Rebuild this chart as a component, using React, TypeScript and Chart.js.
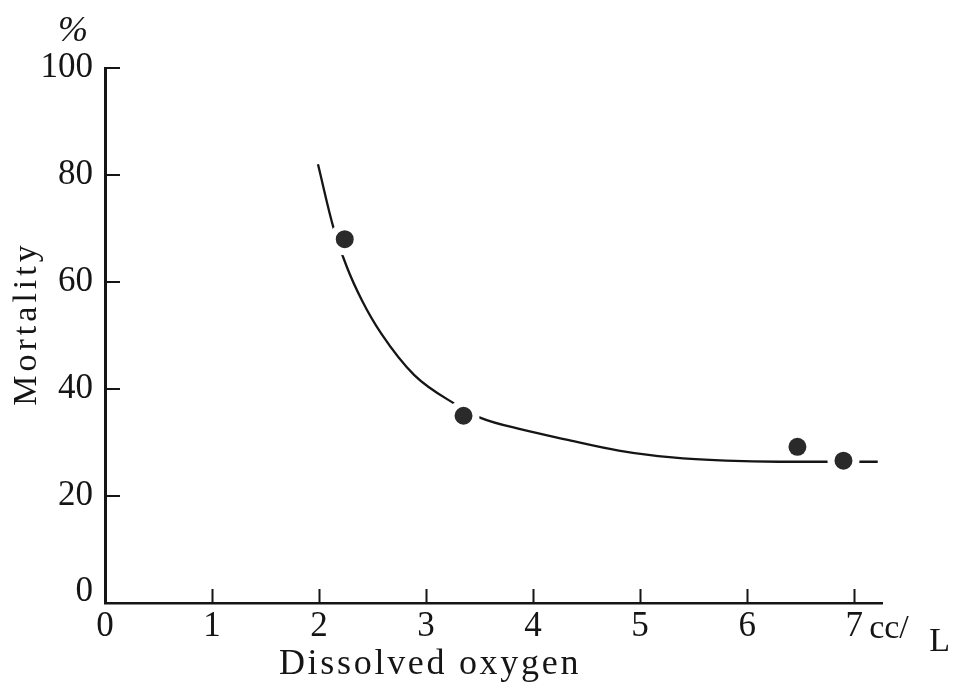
import { useEffect, useRef } from 'react';
import { Chart, registerables } from 'chart.js';

Chart.register(...registerables);

// ---- data ----
const xTickValues = [0, 1, 2, 3, 4, 5, 6, 7];
const yTickValues = [0, 20, 40, 60, 80, 100];
const observedX = [2.24, 3.35, 6.47, 6.9];
const observedY = [68.0, 35.0, 29.2, 26.6];
const curveX = [1.99, 2.13, 2.26, 2.4, 2.58, 2.89, 3.27, 3.51, 3.9, 4.3, 4.8, 5.3, 5.8, 6.3, 6.9, 7.22];
const curveY = [82.0, 70.5, 62.8, 56.6, 50.4, 42.6, 37.2, 34.6, 32.4, 30.6, 28.5, 27.2, 26.6, 26.4, 26.4, 26.4];
const xTitle = 'Dissolved oxygen';
const yTitle = 'Mortality';
const yUnit = '%';
const xUnitTop = 'cc/';
const xUnitBottom = 'L';

const INK = '#151515';
const SERIF = '"Liberation Serif", "DejaVu Serif", serif';

const decorPlugin = {
  id: 'decor',
  afterDraw(chart: any) {
    const ctx = chart.ctx as CanvasRenderingContext2D;
    const xs = chart.scales.x;
    const ys = chart.scales.y;
    const { left, bottom } = chart.chartArea;
    ctx.save();
    ctx.strokeStyle = INK;
    ctx.fillStyle = INK;
    ctx.lineWidth = 2;
    ctx.beginPath();
    xTickValues.filter((v) => v > 0).forEach((v) => {
      const px = Math.round(xs.getPixelForValue(v)) + 0.5;
      ctx.moveTo(px, bottom);
      ctx.lineTo(px, bottom - 14);
    });
    yTickValues.filter((v) => v > 0).forEach((v) => {
      const py = Math.round(ys.getPixelForValue(v));
      ctx.moveTo(left, py);
      ctx.lineTo(left + 15, py);
    });
    ctx.stroke();

    // y "0" label, lifted above the corner
    ctx.font = `35px ${SERIF}`;
    ctx.textAlign = 'right';
    ctx.textBaseline = 'middle';
    ctx.fillText(String(yTickValues[0]), left - 12, ys.getPixelForValue(0) - 11);

    // % unit
    ctx.font = `italic 36px ${SERIF}`;
    ctx.textAlign = 'center';
    ctx.textBaseline = 'alphabetic';
    ctx.fillText(yUnit, left - 32, ys.getPixelForValue(100) - 27);

    // y title
    ctx.save();
    ctx.translate(36, (ys.top + ys.bottom) / 2 - 12);
    ctx.rotate(-Math.PI / 2);
    ctx.font = `34px ${SERIF}`;
    (ctx as any).letterSpacing = '4px';
    ctx.textAlign = 'center';
    ctx.textBaseline = 'alphabetic';
    ctx.fillText(yTitle, 0, 0);
    ctx.restore();

    // x title
    ctx.save();
    ctx.font = `36px ${SERIF}`;
    (ctx as any).letterSpacing = '2.7px';
    ctx.textAlign = 'center';
    ctx.textBaseline = 'alphabetic';
    ctx.fillText(xTitle, 430, 674);
    ctx.restore();

    // x unit
    ctx.font = `34px ${SERIF}`;
    ctx.textAlign = 'left';
    ctx.textBaseline = 'alphabetic';
    ctx.fillText(xUnitTop, xs.getPixelForValue(7) + 15, 638);
    ctx.fillText(xUnitBottom, xs.getPixelForValue(7) + 75, 651);
    ctx.restore();
  },
};

export default function App() {
  const canvasRef = useRef<HTMLCanvasElement | null>(null);

  useEffect(() => {
    document.body.style.margin = '0';
    const canvas = canvasRef.current;
    if (!canvas) return;
    const observed = observedX.map((x, i) => ({ x, y: observedY[i] }));
    const curve = curveX.map((x, i) => ({ x, y: curveY[i] }));
    const chart = new Chart(canvas, {
      type: 'scatter',
      data: {
        datasets: [
          {
            type: 'scatter',
            data: observed,
            order: 0,
            pointBackgroundColor: '#2a2a2a',
            pointBorderColor: '#ffffff',
            pointRadius: (c: any) => (c.dataIndex === 2 ? 9 : 12.5),
            pointBorderWidth: (c: any) => (c.dataIndex === 2 ? 0 : 7),
            pointHoverRadius: 0,
          } as any,
          {
            type: 'line',
            data: curve,
            order: 1,
            borderColor: INK,
            borderWidth: 2.3,
            pointRadius: 0,
            cubicInterpolationMode: 'monotone',
            fill: false,
          } as any,
        ],
      },
      options: {
        animation: false,
        responsive: false,
        events: [],
        layout: { padding: { left: 0, top: 68, right: 74, bottom: 0 } },
        plugins: { legend: { display: false }, tooltip: { enabled: false } },
        scales: {
          x: {
            type: 'linear',
            min: 0,
            max: 7.26,
            afterFit: (s: any) => {
              s.height = 83;
            },
            grid: { display: false, drawTicks: false },
            border: { display: true, color: INK, width: 2.5 },
            ticks: {
              stepSize: 1,
              includeBounds: false,
              autoSkip: false,
              maxRotation: 0,
              padding: 3,
              color: INK,
              font: { family: SERIF, size: 35 },
            },
          },
          y: {
            type: 'linear',
            min: 0,
            max: 100,
            afterFit: (s: any) => {
              s.width = 105;
            },
            grid: { display: false, drawTicks: false },
            border: { display: true, color: INK, width: 3 },
            ticks: {
              stepSize: 20,
              includeBounds: false,
              padding: 12,
              color: INK,
              font: { family: SERIF, size: 35 },
              callback: (v: any) => (Number(v) === 0 ? '' : String(v)),
            },
          },
        },
      } as any,
      plugins: [decorPlugin],
    });
    return () => chart.destroy();
  }, []);

  return (
    <div style={{ position: 'absolute', left: 0, top: 0, width: 956, height: 686, background: '#fff' }}>
      <canvas ref={canvasRef} width={956} height={686} />
    </div>
  );
}
